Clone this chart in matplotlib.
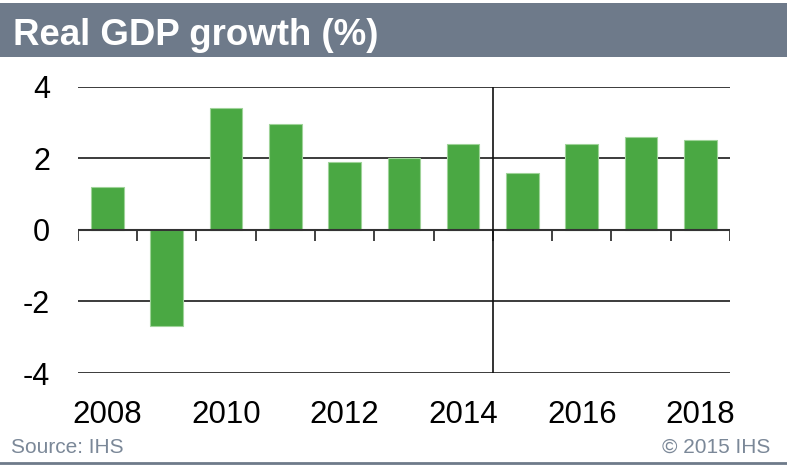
import numpy as np
import matplotlib
matplotlib.use("Agg")
import matplotlib.pyplot as plt
from matplotlib.patches import Rectangle
from matplotlib.lines import Line2D

plt.rcParams['font.family'] = ['Liberation Sans', 'DejaVu Sans']

# data
years = [2008, 2009, 2010, 2011, 2012, 2013, 2014, 2015, 2016, 2017, 2018]
growth = [1.2, -2.7, 3.4, 2.95, 1.9, 2.0, 2.4, 1.6, 2.4, 2.6, 2.5]
label_years = [2008, 2010, 2012, 2014, 2016, 2018]
y_ticks = [-4, -2, 0, 2, 4]
forecast_start = 2015

title = "Real GDP growth (%)"
source = "Source: IHS"
copyright_txt = "\u00a9 2015 IHS"

bar_color = '#4aa843'
band_color = '#6e7a8a'
note_color = '#7b8898'

W, H = 787, 465
fig = plt.figure(figsize=(W / 100, H / 100), dpi=100)

# header band
fig.patches.append(Rectangle((0, 408 / H), 1, 54 / H, transform=fig.transFigure,
                             facecolor=band_color, edgecolor='none', zorder=0))
fig.text(13 / W, (H - 45) / H, title, color='white', fontsize=26.4,
         fontweight='bold', va='baseline', ha='left')

ax = fig.add_axes([77.7 / W, (H - 373) / H, (730 - 77.7) / W, (373 - 86.7) / H])
x = np.arange(len(years))
ax.bar(x, growth, width=0.55, color=bar_color, edgecolor='#9fd399',
       linewidth=0.8, zorder=2)

ax.set_xlim(-0.5, len(years) - 0.5)
ax.set_ylim(-4, 4)

for yv in y_ticks:
    if yv != 0:
        ax.axhline(yv, color='#1a1a1a', lw=1.2, zorder=1)
ax.axhline(0, color='#333333', lw=1.5, zorder=3)

# small ticks hanging from the zero line at category boundaries
bounds = np.arange(len(years) + 1) - 0.5
ax.vlines(bounds, -0.31, 0, color='#333333', lw=1.3, zorder=3)

# divider between history and forecast
ax.axvline(years.index(forecast_start) - 0.5, color='#111111', lw=1.2, zorder=3)

for s in ax.spines.values():
    s.set_visible(False)

ax.set_xticks([years.index(y) for y in label_years])
ax.set_xticklabels([str(y) for y in label_years])
ax.set_yticks(y_ticks)
ax.set_yticklabels([str(v) for v in y_ticks])
ax.tick_params(axis='x', length=0, pad=19.5, labelsize=22.5)
ax.tick_params(axis='y', length=0, pad=20, labelsize=22)

# footer
fig.text(11 / W, (H - 452.5) / H, source, color=note_color, fontsize=15,
         va='baseline', ha='left')
fig.text(770 / W, (H - 452.5) / H, copyright_txt, color=note_color, fontsize=15,
         va='baseline', ha='right')
fig.lines.append(Line2D([0, 1], [(H - 463) / H] * 2, transform=fig.transFigure,
                        color=band_color, lw=2))

fig.savefig('out.png', dpi=100)
